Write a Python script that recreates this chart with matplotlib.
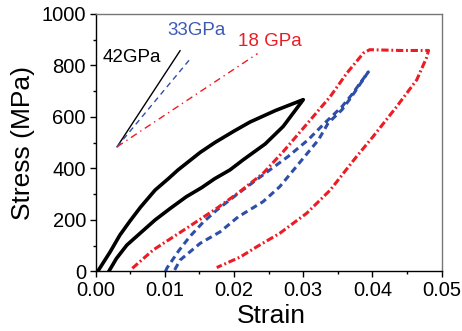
import numpy as np
import matplotlib
matplotlib.use("Agg")
import matplotlib.pyplot as plt

plt.rcParams['font.family'] = ['Liberation Sans', 'DejaVu Sans']

# 42 GPa loop (black): loading branch then unloading branch
black_strain = [0.0003, 0.0021, 0.0035, 0.005, 0.0065, 0.0086, 0.0105, 0.0119, 0.0151, 0.0172,
                0.020, 0.0223, 0.026, 0.030,
                0.0271, 0.0245, 0.0213, 0.0194, 0.0172, 0.0153, 0.0131, 0.0108, 0.0086,
                0.0065, 0.0045, 0.0030, 0.0019]
black_stress = [0, 76, 141, 197, 250, 316, 360, 394, 462, 500,
                545, 580, 625, 667,
                563, 495, 433, 394, 360, 325, 290, 245, 200,
                150, 102, 50, 0]

# 33 GPa loop (blue)
blue_strain = [0.0101, 0.0103, 0.012, 0.0136, 0.0155, 0.0175, 0.0206, 0.0245, 0.0278, 0.0307,
               0.0331, 0.0356, 0.037, 0.0394,
               0.037, 0.0356, 0.0336, 0.0322, 0.0302, 0.0278, 0.0266, 0.0242, 0.0206,
               0.018, 0.0151, 0.0122, 0.0113]
blue_stress = [0, 13, 80, 135, 190, 238, 303, 381, 446, 511,
               576, 640, 686, 775,
               679, 628, 576, 511, 446, 368, 329, 271, 212,
               154, 109, 44, 0]

# 18 GPa loop (red)
red_strain = [0.0053, 0.0083, 0.0131, 0.0175, 0.0206, 0.0242, 0.0271, 0.030, 0.0339, 0.0363,
              0.0387, 0.0396, 0.044, 0.0481,
              0.0478, 0.0464, 0.0435, 0.0401, 0.0377, 0.0339, 0.0305, 0.0266, 0.0233,
              0.0209, 0.0194, 0.0175]
red_stress = [12, 83, 167, 245, 305, 381, 465, 556, 679, 770,
              848, 861, 858, 858,
              829, 744, 640, 524, 446, 316, 226, 148, 96,
              56, 38, 15]

# modulus guide lines from a common origin
origin = (0.0031, 484)
guide_ends = {'42GPa': (0.0122, 857), '33GPa': (0.0135, 820), '18 GPa': (0.0234, 846)}
label_pos = {'42GPa': (0.0010, 815), '33GPa': (0.0103, 919), '18 GPa': (0.0206, 877)}

blue = '#2E4FA8'
red = '#EC1C24'

fig = plt.figure(figsize=(4.62, 3.31), dpi=100)
ax = fig.add_axes([0.207, 0.180, 0.749, 0.778])

ax.plot(black_strain, black_stress, color='k', lw=2.6, solid_capstyle='round')
ax.plot(blue_strain, blue_stress, color=blue, lw=2.2, linestyle=(0, (2.2, 1.4)))
ax.plot(red_strain, red_stress, color=red, lw=2.2, linestyle=(0, (2.4, 0.9, 0.6, 0.9)))

styles = {'42GPa': ('k', '-'), '33GPa': (blue, (0, (4, 3))), '18 GPa': (red, (0, (5, 3, 1, 3)))}
text_colors = {'42GPa': 'k', '33GPa': '#3D5BB5', '18 GPa': red}
for name, end in guide_ends.items():
    c, ls = styles[name]
    ax.plot([origin[0], end[0]], [origin[1], end[1]], color=c, lw=1.0, linestyle=ls)
    ax.text(label_pos[name][0], label_pos[name][1], name, color=text_colors[name],
            fontsize=13.5, ha='left', va='baseline')

ax.set_xlim(0, 0.05)
ax.set_ylim(0, 1000)
ax.set_xticks([0.00, 0.01, 0.02, 0.03, 0.04, 0.05])
ax.set_xticklabels(['0.00', '0.01', '0.02', '0.03', '0.04', '0.05'])
ax.set_yticks([0, 200, 400, 600, 800, 1000])
ax.set_xticks(np.arange(0.005, 0.05, 0.01), minor=True)
ax.set_yticks(np.arange(100, 1000, 200), minor=True)
ax.tick_params(which='major', direction='out', length=4, width=1, labelsize=14.5, pad=3)
ax.tick_params(which='minor', direction='out', length=2.5, width=1)
ax.spines['top'].set_color('#777777')
ax.spines['right'].set_color('#777777')
for s in ax.spines.values():
    s.set_linewidth(1.0)

ax.set_xlabel('Strain', fontsize=19)
ax.set_ylabel('Stress (MPa)', fontsize=19)
ax.yaxis.set_label_coords(-0.175, 0.5)
ax.xaxis.set_label_coords(0.507, -0.125)

fig.savefig('out.png', dpi=100)
